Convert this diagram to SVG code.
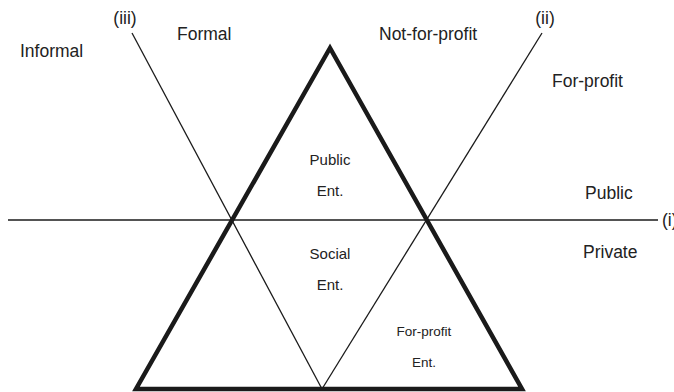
<svg xmlns="http://www.w3.org/2000/svg" width="674" height="392" viewBox="0 0 674 392">
  <style>
    .thin { stroke: #1a1a1a; stroke-width: 1.3; fill: none; }
    .thick { stroke: #1a1a1a; stroke-width: 4.5; fill: none; stroke-linejoin: miter; }
    text { font-family: "Liberation Sans", Arial, sans-serif; fill: #222; }
    .lbl { font-size: 17.5px; }
    .in { font-size: 15px; text-anchor: middle; }
    .sm { font-size: 13.5px; text-anchor: middle; }
  </style>
  <rect width="674" height="392" fill="#fff"/>
  <g id="connectors">
    <!-- axis (i): public / private -->
    <line class="thin" x1="8" y1="220" x2="658" y2="220"/>
    <!-- axis (iii): informal / formal -->
    <line class="thin" x1="132" y1="33" x2="322" y2="389"/>
    <!-- axis (ii): not-for-profit / for-profit -->
    <line class="thin" x1="542" y1="33" x2="322" y2="389"/>
    <!-- enterprise triangle -->
    <polygon class="thick" points="330,48 136,389 522,389"/>
  </g>
  <g id="axis-i">
    <text class="lbl" x="662" y="226">(i)</text>
    <text class="lbl" x="585" y="199">Public</text>
    <text class="lbl" x="583" y="258">Private</text>
  </g>
  <g id="axis-ii">
    <text class="lbl" x="545" y="24" text-anchor="middle">(ii)</text>
    <text class="lbl" x="379" y="40">Not-for-profit</text>
    <text class="lbl" x="552" y="87">For-profit</text>
  </g>
  <g id="axis-iii">
    <text class="lbl" x="125" y="24" text-anchor="middle">(iii)</text>
    <text class="lbl" x="20" y="57">Informal</text>
    <text class="lbl" x="177" y="40">Formal</text>
  </g>
  <g id="public-ent">
    <text class="in" x="330" y="165">Public</text>
    <text class="in" x="330" y="196">Ent.</text>
  </g>
  <g id="social-ent">
    <text class="in" x="330" y="259">Social</text>
    <text class="in" x="330" y="290">Ent.</text>
  </g>
  <g id="for-profit-ent">
    <text class="sm" x="424" y="336">For-profit</text>
    <text class="sm" x="424" y="367">Ent.</text>
  </g>
</svg>
